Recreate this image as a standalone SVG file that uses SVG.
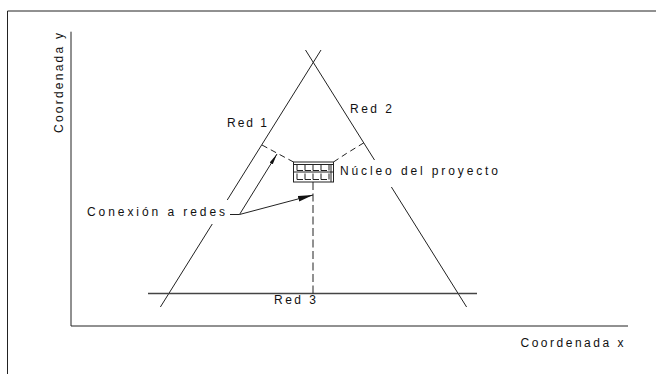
<svg xmlns="http://www.w3.org/2000/svg" width="665" height="374" viewBox="0 0 665 374">
<style>
.ln{stroke:#222;stroke-width:1;fill:none}
.red3{stroke:#444;stroke-width:1.4;fill:none}
.dash{stroke:#222;stroke-width:1;fill:none;stroke-dasharray:8 3.5}
.dash2{stroke:#222;stroke-width:1;fill:none;stroke-dasharray:6 4}
.t{font-family:"Liberation Sans",Arial,sans-serif;font-size:12px;fill:#111}
</style>
<defs>
<marker id="ah1" markerUnits="userSpaceOnUse" markerWidth="12" markerHeight="6" refX="11" refY="3" orient="auto">
<path d="M0,1.2 L11,3 L0,4.8 Z" fill="#111"/>
</marker>
<marker id="ah2" markerUnits="userSpaceOnUse" markerWidth="16" markerHeight="8" refX="15" refY="4" orient="auto">
<path d="M0,1.2 L15,4 L0,6.8 Z" fill="#111"/>
</marker>
</defs>
<rect width="665" height="374" fill="#fff"/>
<g id="frame">
<path class="ln" d="M7.5,374 V11 H656"/>
</g>
<g id="axes">
<path class="ln" d="M71,31.7 V326 H628"/>
<text class="t" x="520.5" y="347" textLength="103" lengthAdjust="spacing">Coordenada x</text>
<text class="t" transform="translate(63,133) rotate(-90)" x="0" y="0" textLength="100" lengthAdjust="spacing">Coordenada y</text>
</g>
<g id="red1">
<path class="ln" d="M321,50 L227.25,200 M212.25,224 L160.4,307"/>
<text class="t" x="227" y="127" textLength="40" lengthAdjust="spacing">Red 1</text>
</g>
<g id="red2">
<path class="ln" d="M305.5,50 L374.5,160 M391.4,187 L466.6,307"/>
<text class="t" x="350" y="113" textLength="42" lengthAdjust="spacing">Red 2</text>
</g>
<g id="red3">
<path class="red3" d="M148,293.5 H477"/>
<text class="t" x="274" y="303.5" textLength="42" lengthAdjust="spacing">Red 3</text>
</g>
<g id="nucleo">
<rect class="ln" x="293.5" y="162" width="40" height="20"/>
<path class="ln" d="M293.5,164.5 H333.5 M331,164.5 V182 M293.5,172 H333.5"/>
<path class="ln" d="M297,165 V170.5 H303 M305,165 V170.5 H311 M313,165 V170.5 H319 M321,165 V170.5 H327 M329,165 V170.5"/>
<path class="ln" d="M297,173.5 V179.5 H303 M305,173.5 V179.5 H311 M313,173.5 V179.5 H319 M321,173.5 V179.5 H327 M329,173.5 V179.5"/>
<text class="t" x="340" y="175" textLength="158" lengthAdjust="spacing">Núcleo del proyecto</text>
</g>
<g id="conexion">
<text class="t" x="87" y="215.5" textLength="138" lengthAdjust="spacing">Conexión a redes</text>
<path class="ln" d="M230,214.5 H239.5"/>
</g>
<g id="connectors">
<path class="dash2" d="M262,145 L277.3,153.3 L293.5,162"/>
<path class="dash2" d="M333.5,162 L346.7,153.3 L364,142.7"/>
<path class="dash" d="M313,182 V293.5"/>
<path class="ln" d="M239.5,214.5 L277,154" marker-end="url(#ah1)"/>
<path class="ln" d="M239.5,214.5 L313,195" marker-end="url(#ah2)"/>
</g>
</svg>
